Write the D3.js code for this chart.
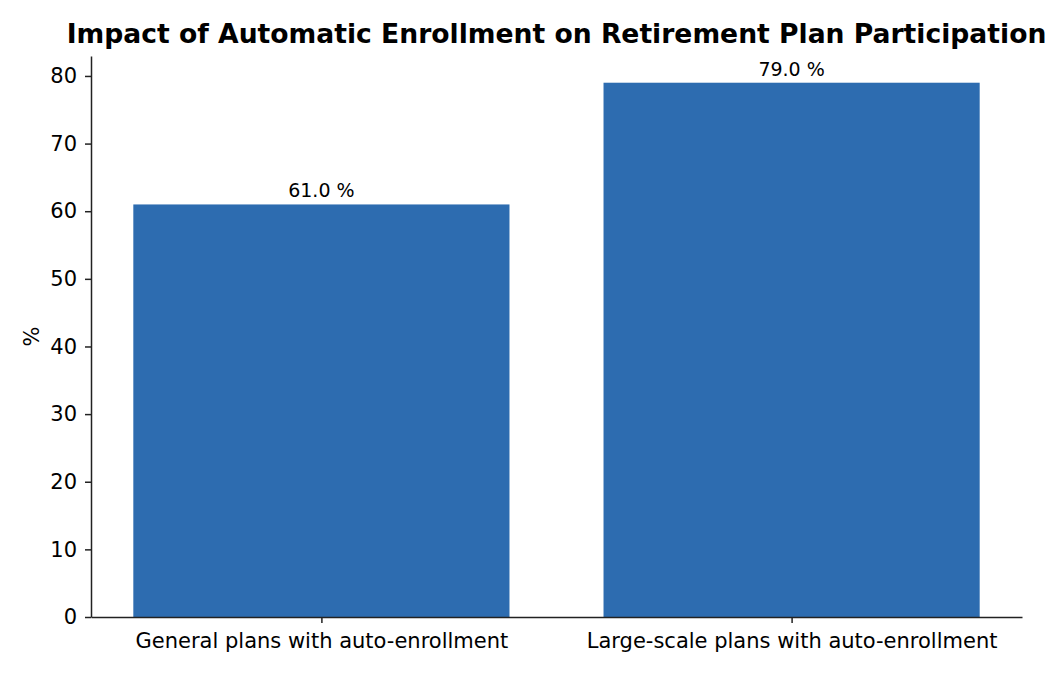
<!DOCTYPE html>
<html>
<head>
<meta charset="utf-8">
<script src="https://cdn.jsdelivr.net/npm/d3@7"></script>
<style>
  body { margin: 0; background: #fff; }
  svg, svg text { font-family: "DejaVu Sans", sans-serif; }
</style>
</head>
<body>
<svg id="chart" width="1050" height="675"></svg>
<script>
var categories = ["General plans with auto-enrollment", "Large-scale plans with auto-enrollment"];
var values = [61.0, 79.0];
var yTicks = [0, 10, 20, 30, 40, 50, 60, 70, 80];

var margin = { top: 56, right: 28, bottom: 58, left: 91 };
var width = 1050 - margin.left - margin.right;
var height = 675 - margin.top - margin.bottom;

var svg = d3.select("#chart");
var g = svg.append("g").attr("transform", "translate(" + margin.left + "," + margin.top + ")");

// matplotlib-like linear x: bars at 0 and 1, width 0.8, 5% margins
var x = d3.scaleLinear().domain([-0.49, 1.49]).range([0, width]);
var y = d3.scaleLinear().domain([0, d3.max(values) * 1.05]).range([height, 0]);

g.selectAll("rect.bar")
  .data(values)
  .enter().append("rect")
  .attr("class", "bar")
  .attr("x", function (d, i) { return x(i - 0.4); })
  .attr("width", x(0.8) - x(0))
  .attr("y", function (d) { return y(d); })
  .attr("height", function (d) { return height - y(d); })
  .attr("fill", "#2d6cb0");

g.selectAll("text.val")
  .data(values)
  .enter().append("text")
  .attr("class", "val")
  .attr("x", function (d, i) { return x(i); })
  .attr("y", function (d) { return y(d) - 7; })
  .attr("text-anchor", "middle")
  .style("font-size", "19px")
  .text(function (d) { return d.toFixed(1) + " %"; });

var yAxis = g.append("g")
  .call(d3.axisLeft(y).tickValues(yTicks).tickSize(6).tickSizeOuter(0).tickPadding(8));

var xAxis = g.append("g")
  .attr("transform", "translate(0," + height + ")")
  .call(d3.axisBottom(x).tickValues([0, 1]).tickFormat(function (d) { return categories[d]; })
    .tickSize(6).tickSizeOuter(0).tickPadding(10));

[yAxis, xAxis].forEach(function (a) {
  a.attr("font-family", null).attr("font-size", null);
  a.selectAll("text").style("font-size", "21px").attr("fill", "#000");
  a.select(".domain").attr("stroke", "#222").attr("stroke-width", 1.5);
  a.selectAll(".tick line").attr("stroke", "#222").attr("stroke-width", 1.5);
});

g.append("text")
  .attr("transform", "translate(-52," + (height / 2) + ") rotate(-90)")
  .attr("text-anchor", "middle")
  .style("font-size", "21px")
  .text("%");

svg.append("text")
  .attr("x", margin.left + width / 2)
  .attr("y", 43)
  .attr("text-anchor", "middle")
  .style("font-size", "26.6px")
  .style("font-weight", "bold")
  .text("Impact of Automatic Enrollment on Retirement Plan Participation");
</script>
</body>
</html>
